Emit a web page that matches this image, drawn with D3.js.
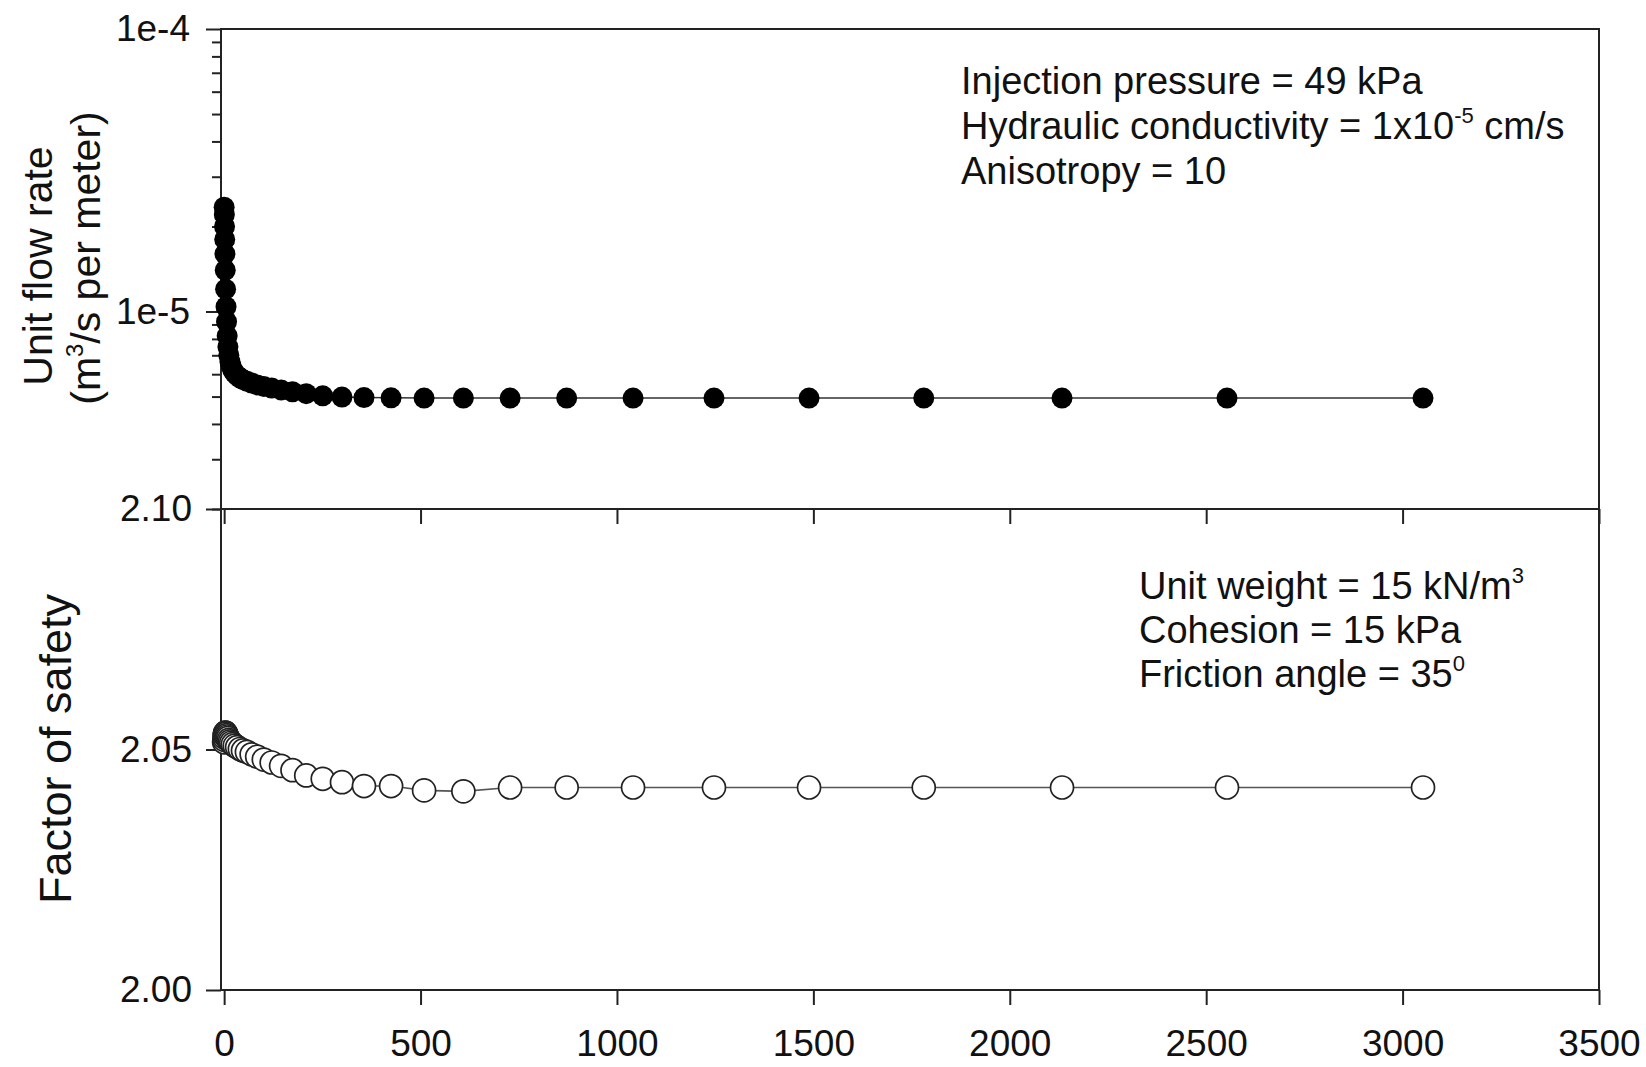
<!DOCTYPE html>
<html>
<head>
<meta charset="utf-8">
<script src="https://cdn.jsdelivr.net/npm/d3@7"></script>
<style>
  body { margin: 0; background: #fff; }
  svg { display: block; font-family: "Liberation Sans", Arial, sans-serif; }
  .axis path, .axis line { stroke: #222; stroke-width: 2; }
  .axis text { fill: #111; font-size: 37px; font-family: "Liberation Sans", Arial, sans-serif; }
</style>
</head>
<body>
<script>
const WIDTH = 1646;
const HEIGHT = 1067;
const LEFT = 221, RIGHT = 1599;
const TOP1 = 29, BOT1 = 509;   // flow rate panel
const TOP2 = 509, BOT2 = 990;  // factor of safety panel

// time (x)
var timeVals = [0, 0.5, 1, 1.5, 2, 2.8, 3.7, 4.8, 6.1, 7.7, 9.6, 11.9, 14.7, 18, 22, 27, 33, 40, 48, 58,
  70, 84, 101, 121, 145, 174, 209, 251, 300, 356, 425, 509, 609, 728, 872, 1041, 1247, 1489, 1781,
  2133, 2553, 3052];

// unit flow rate (m3/s per meter)
var flowVals = [2.34e-5, 2.2e-5, 2.0e-5, 1.8e-5, 1.6e-5, 1.4e-5, 1.2e-5, 1.04e-5, 9.2e-6, 8.2e-6,
  7.5e-6, 7.0e-6, 6.65e-6, 6.4e-6, 6.2e-6, 6.05e-6, 5.93e-6, 5.83e-6, 5.74e-6, 5.66e-6,
  5.58e-6, 5.5e-6, 5.43e-6, 5.36e-6, 5.28e-6, 5.2e-6, 5.12e-6, 5.03e-6, 4.98e-6, 4.96e-6,
  4.95e-6, 4.94e-6, 4.94e-6, 4.94e-6, 4.94e-6, 4.94e-6, 4.94e-6, 4.94e-6, 4.94e-6,
  4.94e-6, 4.94e-6, 4.94e-6];

// factor of safety
var fsVals = [2.0515, 2.0520, 2.0525, 2.0530, 2.0533, 2.0535, 2.0535, 2.0533, 2.0530, 2.0527,
  2.0524, 2.0520, 2.0517, 2.0514, 2.0511, 2.0508, 2.0505, 2.0501, 2.0498, 2.0495,
  2.0490, 2.0485, 2.0479, 2.0473, 2.0466, 2.0457, 2.0446, 2.0439, 2.0432, 2.0424,
  2.0424, 2.0415, 2.0413, 2.0421, 2.0421, 2.0421, 2.0421, 2.0421, 2.0421,
  2.0421, 2.0421, 2.0421];

var xTicks = [0, 500, 1000, 1500, 2000, 2500, 3000, 3500];
var flowTicks = [1e-4, 1e-5];
var flowTickLabels = ["1e-4", "1e-5"];
var fsTicks = [2.00, 2.05, 2.10];

var topNotes = ["Injection pressure = 49 kPa", "Hydraulic conductivity = 1x10|-5| cm/s", "Anisotropy = 10"];
var botNotes = ["Unit weight = 15 kN/m|3|", "Cohesion = 15 kPa", "Friction angle = 35|0|"];

var data = timeVals.map(function(t, i){
  return {t: t, q: flowVals[i], fs: fsVals[i]};
});

var translate = function(x,y){
  return "translate("+x+","+y+")";
};

var xScale = d3.scaleLinear().domain([-8, 3500]).range([LEFT, RIGHT]);
var yFlow = d3.scaleLog().domain([2e-6, 1e-4]).range([BOT1, TOP1]);
var yFs = d3.scaleLinear().domain([2.00, 2.10]).range([BOT2, TOP2]);

var svg = d3.select('body').append('svg')
  .attr('width', WIDTH)
  .attr('height', HEIGHT);

// panel frames
svg.append('rect')
  .attr('x', LEFT).attr('y', TOP1)
  .attr('width', RIGHT - LEFT).attr('height', BOT2 - TOP1)
  .attr('fill', 'none').attr('stroke', '#222').attr('stroke-width', 2);

// top panel axes
var minorFlow = yFlow.ticks().filter(function(d){ return flowTicks.indexOf(d) < 0; });
svg.append('g').attr('class', 'axis')
  .attr('transform', translate(LEFT, 0))
  .call(d3.axisLeft(yFlow).tickValues(minorFlow).tickSize(9).tickSizeOuter(0).tickFormat(''))
  .select('.domain').remove();

svg.append('g').attr('class', 'axis')
  .attr('transform', translate(LEFT, 0))
  .call(d3.axisLeft(yFlow).tickValues(flowTicks).tickSize(15).tickSizeOuter(0).tickPadding(16)
    .tickFormat(function(d, i){ return flowTickLabels[i]; }))
  .select('.domain').remove();

svg.append('g').attr('class', 'axis')
  .attr('transform', translate(0, BOT1))
  .call(d3.axisBottom(xScale).tickValues(xTicks).tickSize(15).tickSizeOuter(0).tickFormat(''))
  .select('.domain').remove();

// bottom panel axes
svg.append('g').attr('class', 'axis')
  .attr('transform', translate(LEFT, 0))
  .call(d3.axisLeft(yFs).tickValues(fsTicks).tickSize(15).tickSizeOuter(0).tickPadding(14)
    .tickFormat(d3.format('.2f')))
  .select('.domain').remove();

svg.append('g').attr('class', 'axis')
  .attr('transform', translate(0, BOT2))
  .call(d3.axisBottom(xScale).tickValues(xTicks).tickSize(15).tickSizeOuter(0).tickPadding(25)
    .tickFormat(d3.format('d')))
  .select('.domain').remove();

svg.append('line')
  .attr('x1', LEFT).attr('x2', RIGHT)
  .attr('y1', BOT1).attr('y2', BOT1)
  .attr('stroke', '#222').attr('stroke-width', 2);

// series
var flowLine = d3.line()
  .x(function(d){ return xScale(d.t); })
  .y(function(d){ return yFlow(d.q); });

var fsLine = d3.line()
  .x(function(d){ return xScale(d.t); })
  .y(function(d){ return yFs(d.fs); });

svg.append('path')
  .attr('d', flowLine(data))
  .attr('fill', 'none').attr('stroke', '#333').attr('stroke-width', 1.6);

svg.append('g').selectAll('circle')
  .data(data).enter()
  .append('circle')
  .attr('cx', function(d){ return xScale(d.t); })
  .attr('cy', function(d){ return yFlow(d.q); })
  .attr('r', 10.5)
  .attr('fill', '#000');

svg.append('path')
  .attr('d', fsLine(data))
  .attr('fill', 'none').attr('stroke', '#555').attr('stroke-width', 1.6);

svg.append('g').selectAll('circle')
  .data(data).enter()
  .append('circle')
  .attr('cx', function(d){ return xScale(d.t); })
  .attr('cy', function(d){ return yFs(d.fs); })
  .attr('r', 11.5)
  .attr('fill', '#fff')
  .attr('stroke', '#222')
  .attr('stroke-width', 1.7);

// text with |superscript| parts
var writeText = function(sel, str, size){
  var parts = str.split('|');
  parts.forEach(function(p, i){
    if (!p.length) return;
    if (i % 2 == 1) {
      sel.append('tspan').attr('font-size', size * 0.58).attr('dy', -size * 0.42).text(p);
    } else {
      var t = sel.append('tspan').text(p);
      if (i > 0) t.attr('dy', size * 0.42);
    }
  });
};

var notes = function(lines, x, y0, step){
  lines.forEach(function(s, i){
    var t = svg.append('text')
      .attr('x', x).attr('y', y0 + i * step)
      .attr('font-size', 38).attr('fill', '#111');
    writeText(t, s, 38);
  });
};
notes(topNotes, 961, 94, 45);
notes(botNotes, 1139, 599, 44);

// axis titles
var t1 = svg.append('text')
  .attr('transform', translate(52, 266) + ' rotate(-90)')
  .attr('text-anchor', 'middle').attr('font-size', 41).attr('fill', '#111');
writeText(t1, 'Unit flow rate', 41);

var t2 = svg.append('text')
  .attr('transform', translate(100, 258) + ' rotate(-90)')
  .attr('text-anchor', 'middle').attr('font-size', 41).attr('fill', '#111');
writeText(t2, '(m|3|/s per meter)', 41);

svg.append('text')
  .attr('transform', translate(71, 749) + ' rotate(-90)')
  .attr('text-anchor', 'middle').attr('font-size', 45).attr('fill', '#111')
  .text('Factor of safety');
</script>
</body>
</html>
